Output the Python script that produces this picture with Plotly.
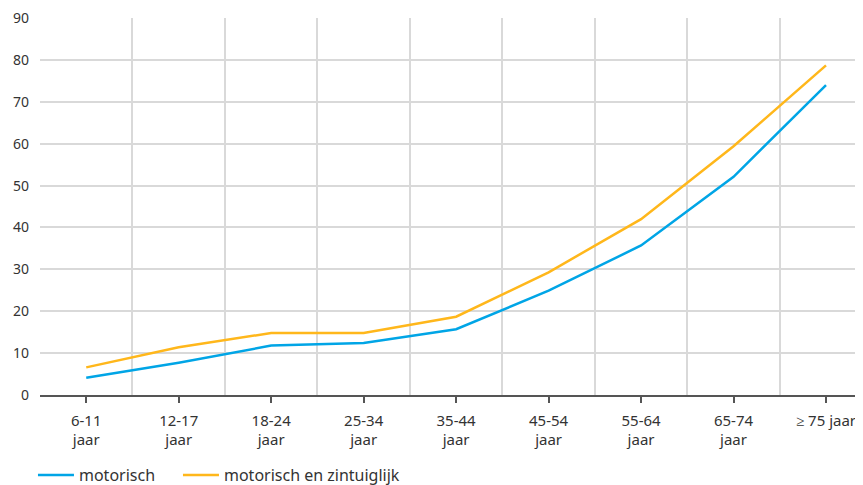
import plotly.graph_objects as go

categories = ["6-11<br>jaar", "12-17<br>jaar", "18-24<br>jaar", "25-34<br>jaar", "35-44<br>jaar",
              "45-54<br>jaar", "55-64<br>jaar", "65-74<br>jaar", "≥ 75 jaar"]
motorisch = [4.1, 7.7, 11.8, 12.4, 15.7, 24.9, 35.7, 52.1, 74.0]
motorisch_zintuiglijk = [6.6, 11.4, 14.8, 14.8, 18.7, 29.3, 42.0, 59.4, 78.7]
y_ticks = [0, 10, 20, 30, 40, 50, 60, 70, 80, 90]

xpos = list(range(len(categories)))

fig = go.Figure()
fig.add_trace(go.Scatter(x=xpos, y=motorisch, mode="lines", name="motorisch",
                         line=dict(color="#00a5e6", width=2.5), legend="legend"))
fig.add_trace(go.Scatter(x=xpos, y=motorisch_zintuiglijk, mode="lines", name="motorisch en zintuiglijk",
                         line=dict(color="#ffb71b", width=2.5), legend="legend2"))

legend_style = dict(orientation="h", xanchor="left", xref="container", yref="container",
                    y=0.021, yanchor="middle",
                    font=dict(size=16, color="#333333"), itemwidth=36, bgcolor="rgba(0,0,0,0)")

# page body has an 8px margin; the figure is shifted accordingly
fig.update_layout(
    width=855, height=477,
    margin=dict(l=32, r=0, t=10, b=90),
    paper_bgcolor="white", plot_bgcolor="white",
    font=dict(family="Noto Sans", size=14, color="#333333"),
    showlegend=True,
    legend=dict(x=0.0292, **legend_style),
    legend2=dict(x=0.1988, **legend_style),
    xaxis=dict(
        range=[-0.5, 8.4], tickmode="array", tickvals=xpos, ticktext=categories,
        showgrid=False, zeroline=False, automargin=False,
        ticks="outside", ticklen=6, tickwidth=1.5, tickcolor="#555555",
        showline=True, linecolor="#555555", linewidth=1.5,
        minor=dict(tickmode="array", tickvals=[i - 0.5 for i in range(len(categories) + 1)],
                   showgrid=True, gridcolor="#d9d9d9", gridwidth=1.5, ticks=""),
        tickfont=dict(size=15), ticklabeloverflow="allow", ticklabelstandoff=5,
        fixedrange=True,
    ),
    yaxis=dict(
        range=[0, 90.02], tickmode="array", tickvals=y_ticks,
        showgrid=True, gridcolor="#d9d9d9", gridwidth=1.5, zeroline=False, automargin=False,
        ticks="", ticklabelstandoff=10, tickfont=dict(size=14), ticklabeloverflow="allow",
        fixedrange=True,
    ),
)

fig.write_html("out.html")
